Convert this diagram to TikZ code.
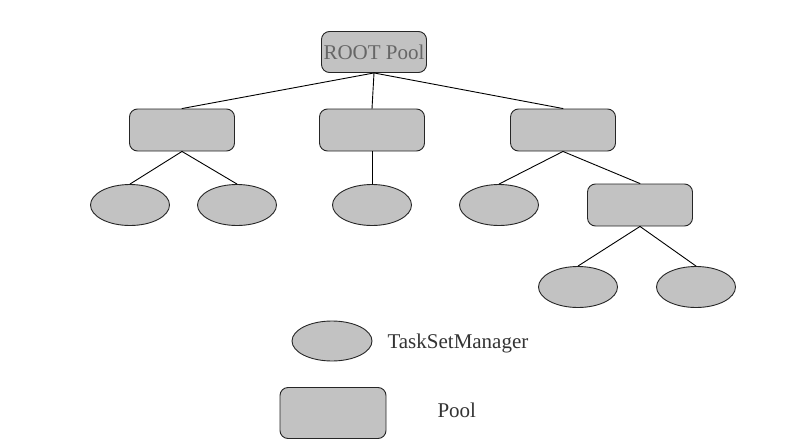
\documentclass[tikz,border=0pt]{standalone}
\usepackage{fontspec}
\setmainfont{Liberation Serif}
\usetikzlibrary{shapes.geometric}
\definecolor{poolgray}{gray}{0.76}
\begin{document}
\begin{tikzpicture}[x=1pt, y=-1pt, font=\fontsize{21}{25}\selectfont, line join=round, line cap=round,
		pool/.style={draw=black!85, line width=0.9pt, fill=poolgray, rounded corners=8pt, minimum width=105pt, minimum height=42pt, inner sep=2pt},
		tsm/.style={ellipse, draw=black!85, line width=0.9pt, fill=poolgray, minimum width=79pt, minimum height=41pt, inner sep=0pt}]
	\useasboundingbox (0,0) rectangle (797,444);
	% tree
	\node[pool, text=black!60, minimum height=41pt] (root) at (374,52) {ROOT Pool};
	\node[pool] (poolA) at (182,130) {};
	\node[pool] (poolB) at (372,130) {};
	\node[pool] (poolC) at (563,130) {};
	\node[tsm] (tsmA) at (130,205) {};
	\node[tsm] (tsmB) at (237,205) {};
	\node[tsm] (tsmC) at (372,205) {};
	\node[tsm] (tsmD) at (499,205) {};
	\node[pool] (poolD) at (640,205) {};
	\node[tsm] (tsmE) at (578,287) {};
	\node[tsm] (tsmF) at (696,287) {};
	\draw[line width=0.9pt] (root.south) -- (poolA.north);
	\draw[line width=0.9pt] (root.south) -- (poolB.north);
	\draw[line width=0.9pt] (root.south) -- (poolC.north);
	\draw[line width=0.9pt] (poolA.south) -- (tsmA.north);
	\draw[line width=0.9pt] (poolA.south) -- (tsmB.north);
	\draw[line width=0.9pt] (poolB.south) -- (tsmC.north);
	\draw[line width=0.9pt] (poolC.south) -- (tsmD.north);
	\draw[line width=0.9pt] (poolC.south) -- (poolD.north);
	\draw[line width=0.9pt] (poolD.south) -- (tsmE.north);
	\draw[line width=0.9pt] (poolD.south) -- (tsmF.north);
	% legend
	\node[tsm, minimum width=80pt, minimum height=40pt] (keytsm) at (332,341) {};
	\node[anchor=west, text=black!80] (keytsmtext) at (384,343) {TaskSetManager};
	\node[pool, minimum width=106pt, minimum height=51pt] (keypool) at (333,413) {};
	\node[anchor=west, text=black!80] (keypooltext) at (434,410) {Pool};
\end{tikzpicture}
\end{document}
